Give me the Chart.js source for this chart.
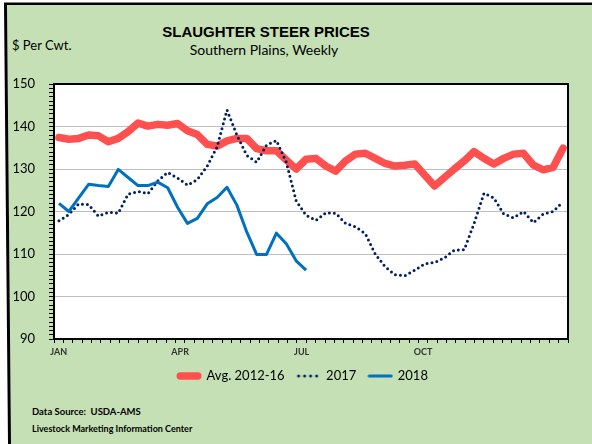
<!DOCTYPE html>
<html><head><meta charset="utf-8">
<script src="https://cdn.jsdelivr.net/npm/chart.js@4.4.1/dist/chart.umd.min.js"></script>
<style>
html,body{margin:0;padding:0;background:#fff;}
#wrap{position:relative;width:592px;height:444px;overflow:hidden;background:#fff;}
#green{position:absolute;left:0;top:0;width:592px;height:444px;background:#C5E0B4;clip-path:polygon(7px 5px,592px 5px,592px 444px,11px 444px);}
#frame{position:absolute;left:0;top:0;width:592px;height:444px;background:#000;clip-path:polygon(4px 2.5px,592px 2.5px,592px 5px,7px 5px,11px 444px,8px 444px);}
canvas{position:absolute;left:0;top:0;}
.t{position:absolute;white-space:nowrap;line-height:1;color:#000;}
#title{left:0;width:532px;text-align:center;top:23px;font:bold 15px "Liberation Sans",Arial,sans-serif;}
#sub{left:0;width:528px;text-align:center;top:41px;font:14px Lato,sans-serif;}
#unit{left:12px;top:37px;font:13px Lato,sans-serif;}
#src{left:32px;top:406px;font:bold 9.5px Lato,sans-serif;}
#lmic{left:32px;top:423px;font:bold 9px Lato,sans-serif;}
</style></head>
<body>
<div id="wrap">
<div id="green"></div>
<div id="frame"></div>
<div class="t" id="title">SLAUGHTER STEER PRICES</div>
<div class="t" id="sub">Southern Plains, Weekly</div>
<div class="t" id="unit">$ Per Cwt.</div>
<div class="t" id="src">Data Source:&nbsp; USDA-AMS</div>
<div class="t" id="lmic">Livestock Marketing Information Center</div>
<canvas id="c" width="592" height="444"></canvas>
</div>
<script>
const weeks = ["1","2","3","4","5","6","7","8","9","10","11","12","13","14","15","16","17","18","19","20","21","22","23","24","25","26","27","28","29","30","31","32","33","34","35","36","37","38","39","40","41","42","43","44","45","46","47","48","49","50","51","52"];
const tickLabels = ["JAN","","","","","","","","","","","","","APR","","","","","","","","","","","","","JUL","","","","","","","","","","","","","OCT","","","","","","","","","","","","","","",""];
const avg = [137.4,137.0,137.2,138.0,137.8,136.4,137.2,138.8,140.8,140.1,140.5,140.3,140.7,139.0,138.1,135.8,135.4,136.6,137.2,137.2,134.8,134.3,134.3,132.1,130.0,132.3,132.5,130.7,129.5,131.9,133.5,133.7,132.5,131.3,130.7,130.9,131.2,128.6,126.0,128.0,130.0,131.9,134.1,132.5,131.2,132.5,133.5,133.7,130.9,129.8,130.4,134.9];
const y2017 = [117.8,119.3,121.8,121.6,118.9,119.8,119.6,124.1,124.7,124.2,127.2,129.2,127.9,126.2,127.5,130.7,135.2,143.9,138.0,133.2,131.6,135.6,136.7,131.6,122.5,119.1,117.9,119.7,119.6,117.2,116.4,114.8,110.0,107.0,105.1,104.9,106.2,107.7,108.0,109.1,110.9,111.0,117.2,124.3,123.2,119.4,118.5,120.0,117.4,119.4,120.0,122.3];
const y2018 = [121.9,120.0,123.2,126.4,126.1,125.9,129.9,128.0,126.1,126.1,126.9,125.6,121.0,117.2,118.4,121.8,123.3,125.7,121.5,115.2,109.9,109.9,114.9,112.4,108.4,106.2];
const yMin = 90, yMax = 150;

function swatch(color, width, dash){
  const cv = document.createElement('canvas');
  cv.width = 26; cv.height = 10;
  const c = cv.getContext('2d');
  c.strokeStyle = color; c.lineWidth = width; c.lineCap = 'round';
  if (dash) c.setLineDash(dash);
  c.beginPath();
  if (dash) { c.moveTo(3,5); c.lineTo(24,5); }
  else { c.moveTo(width/2+0.5,5); c.lineTo(26-width/2-0.5,5); }
  c.stroke();
  return cv;
}
const swatches = [swatch('#FF5050',7.5), swatch('#002060',3,[0,6]), swatch('#0070C0',3)];

const areaPlugin = {
  id:'area',
  afterLayout(chart){
    if (chart.legend) { chart.legend.left = 38; }
  },
  beforeDraw(chart){
    const a = chart.chartArea, c = chart.ctx;
    c.save(); c.fillStyle = '#fff'; c.fillRect(a.left, a.top, a.right-a.left, a.bottom-a.top); c.restore();
  },
  afterDraw(chart){
    const a = chart.chartArea, c = chart.ctx;
    c.save(); c.strokeStyle = '#000'; c.lineWidth = 2;
    c.strokeRect(a.left, a.top, a.right-a.left, a.bottom-a.top); c.restore();
  }
};

new Chart(document.getElementById('c'), {
  type:'line',
  data:{labels:weeks, datasets:[
    {label:'Avg. 2012-16', data:avg, borderColor:'#FF5050', backgroundColor:'#FF5050', borderWidth:7.5, pointRadius:0, borderJoinStyle:'round', borderCapStyle:'round', xAxisID:'x', yAxisID:'y', order:3},
    {label:'2017', data:y2017, borderColor:'#002060', backgroundColor:'#002060', borderWidth:3, borderDash:[0,5], borderCapStyle:'round', pointRadius:0, xAxisID:'x', yAxisID:'y', order:2},
    {label:'2018', data:y2018, borderColor:'#0070C0', backgroundColor:'#0070C0', borderWidth:3, pointRadius:0, borderJoinStyle:'round', xAxisID:'x', yAxisID:'y', order:1}
  ]},
  options:{
    responsive:false, animation:false, devicePixelRatio:1,
    layout:{padding:{left:10,right:24,top:84,bottom:51.5}},
    plugins:{
      legend:{position:'bottom', labels:{usePointStyle:true, pointStyleWidth:22, padding:13, color:'#000', font:{family:'Lato', size:13},
        sort:(a,b)=>a.datasetIndex-b.datasetIndex,
        generateLabels:(chart)=>{
          const items = Chart.defaults.plugins.legend.labels.generateLabels(chart);
          items.forEach(it=>{ it.pointStyle = swatches[it.datasetIndex]; });
          return items;
        }}},
      tooltip:{enabled:false}
    },
    scales:{
      x:{type:'category', offset:true, display:false},
      x2:{type:'category', labels:tickLabels, position:'bottom', offset:true,
          grid:{offset:true, drawOnChartArea:false, tickLength:4, color:'#000', tickColor:'#000'},
          border:{display:false},
          ticks:{autoSkip:false, maxRotation:0, minRotation:0, padding:4, color:'#333', font:{family:'Lato', size:9, weight:'bold'}},
          afterFit:(s)=>{s.height=17.5;}},
      y:{min:yMin, max:yMax, afterFit:(s)=>{s.width=44;},
         ticks:{stepSize:1, autoSkip:false, padding:14, color:'#000', font:{family:'Lato', size:13},
                callback:(v)=> v%10===0 ? v : ''},
         grid:{tickLength:5, lineWidth:1, tickColor:'#000',
               color:(c)=> (c.tick && c.tick.value%10===0 && c.tick.value>yMin && c.tick.value<yMax) ? '#BFBFBF' : 'rgba(0,0,0,0)'},
         border:{display:false}}
    }
  },
  plugins:[areaPlugin]
});
</script>
</body></html>
